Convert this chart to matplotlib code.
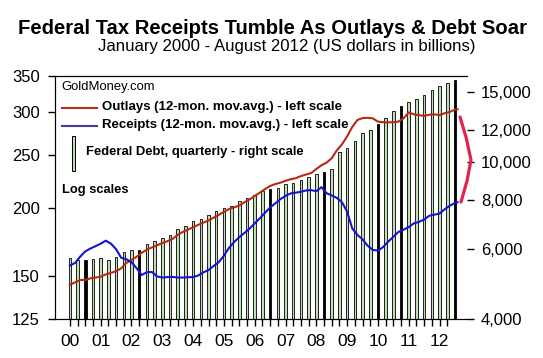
import numpy as np
import matplotlib
matplotlib.use('Agg')
import matplotlib.pyplot as plt
from matplotlib.lines import Line2D

# monthly index: 0 = Jan 2000, 151 = Aug 2012 (values read every 2 months)
line_months = list(range(0, 151, 2)) + [151]

outlays = [144.5, 146, 147.5, 147.5, 148.5, 149, 149.5, 151, 152, 153,
           155, 158.5, 160.5, 162.7, 165.5, 167.8, 169.3, 170.8, 172.5, 173.8,
           175.5, 178.5, 180.8, 182.6, 184.4, 186.3, 188, 189.8, 192, 194.3,
           196.8, 199.2, 200.6, 202.2, 205, 207.4, 210.5, 213.5, 216.7, 219.6,
           221.4, 222.7, 224.5, 226, 227, 229, 230.6, 232, 236, 239.8,
           242.5, 247, 255.5, 262, 271, 282, 290.5, 292.8, 293.2, 292.5,
           288.5, 287.8, 287.5, 287.8, 288.5, 292.5, 300, 297.5, 296.5, 295.5,
           297, 297.5, 296.5, 299, 300.5, 303.5, 304]

receipts = [156.8, 158.5, 162.8, 166.5, 168.5, 170.2, 172, 174.2, 172, 168,
            162, 161, 159, 155, 150.6, 152.5, 152.5, 149.7, 149, 149.3,
            149.4, 149, 149, 149.2, 149.3, 150.3, 152.3, 153.8, 156.5, 159,
            163.5, 169, 173.2, 176.8, 180, 183.3, 187.5, 191.5, 196, 200.5,
            204, 207.7, 210.6, 212.8, 213.5, 214.3, 215.5, 215.8, 214.8, 218.5,
            213, 211, 208.8, 205, 197, 183.5, 178.5, 175.2, 170.5, 167.5,
            167, 169.5, 173.5, 177, 180.8, 182.5, 184.5, 187.5, 188.6, 190.5,
            193.6, 194.5, 195.4, 199, 202, 204.4, 205]

# quarterly federal debt, Q1 2000 .. Q3 2012
debt_months = list(range(0, 151, 3))
debt = [5705, 5630, 5630, 5660, 5705, 5630, 5740, 5895, 5975, 5975,
        6185, 6300, 6400, 6510, 6770, 6880, 7080, 7150, 7320, 7510,
        7630, 7740, 7940, 8080, 8220, 8420, 8540, 8590, 8760, 8820,
        9000, 9130, 9310, 9400, 9600, 10600, 10850, 11300, 11800, 12050,
        12430, 12930, 13430, 13860, 14170, 14380, 14740, 15200, 15530, 15800,
        16100]
dark_bars = [2, 9, 26, 33, 40, 43, 50]

year_labels = ['00', '01', '02', '03', '04', '05', '06', '07', '08', '09', '10', '11', '12']
left_ticks = [125, 150, 200, 250, 300, 350]
right_ticks = [4000, 6000, 8000, 10000, 12000, 15000]
right_labels = ['4,000', '6,000', '8,000', '10,000', '12,000', '15,000']

plt.rcParams['font.family'] = ['Liberation Sans', 'DejaVu Sans']

W, H = 543, 358
fig = plt.figure(figsize=(W / 100, H / 100), dpi=100)

def fx(px):
    return px / W

def fy(py):
    return 1 - py / H

ax = fig.add_axes([fx(55), fy(319), fx(467) - fx(55), fy(76) - fy(319)])
ax2 = ax.twinx()
ax.set_zorder(ax2.get_zorder() + 1)
ax.patch.set_visible(False)

# debt bars (right scale)
colors = ['black' if i in dark_bars else '#bde0b0' for i in range(len(debt))]
ax2.bar(debt_months, debt, width=1.0, color=colors, edgecolor='black', linewidth=0.6)
ax2.set_yscale('log')
ax2.set_ylim(4000, 16470)
ax2.set_yticks(right_ticks)
ax2.set_yticklabels(right_labels)
ax2.yaxis.set_minor_locator(matplotlib.ticker.NullLocator())

# lines (left scale)
ax.plot(line_months, outlays, color='#b52a12', lw=1.5)
ax.plot(line_months, receipts, color='#1414d2', lw=1.5)
ax.set_yscale('log')
ax.set_ylim(125, 350)
ax.set_yticks(left_ticks)
ax.set_yticklabels([str(t) for t in left_ticks])
ax.yaxis.set_minor_locator(matplotlib.ticker.NullLocator())

ax.set_xlim(-5.8, 154.7)
qticks = list(range(0, 150, 3))
ax.set_xticks(qticks)
ax.set_xticklabels([year_labels[m // 12] if m % 12 == 0 else '' for m in qticks])

for a in (ax, ax2):
    a.spines['right'].set_visible(False)
    a.tick_params(axis='both', direction='out', length=5, width=1, labelsize=12)
ax.tick_params(axis='x', labelsize=12.5, pad=6)
ax.tick_params(axis='y', pad=6)
ax2.tick_params(axis='y', pad=5)

# titles
fig.text(fx(272), fy(28), 'Federal Tax Receipts Tumble As Outlays & Debt Soar',
         ha='center', va='center', fontsize=14.6, fontweight='bold')
fig.text(fx(287), fy(46), 'January 2000 - August 2012 (US dollars in billions)',
         ha='center', va='center', fontsize=12.1)

# legend box contents
fig.text(fx(61), fy(87), 'GoldMoney.com', ha='left', va='center', fontsize=9.4)
fig.add_artist(Line2D([fx(62), fx(97)], [fy(108), fy(108)], color='#b03020', lw=1.5))
fig.text(fx(102), fy(107), 'Outlays (12-mon. mov.avg.) - left scale',
         ha='left', va='center', fontsize=9.5, fontweight='bold')
fig.add_artist(Line2D([fx(62), fx(97)], [fy(126), fy(126)], color='#404098', lw=1.5))
fig.text(fx(102), fy(125), 'Receipts (12-mon. mov.avg.) - left scale',
         ha='left', va='center', fontsize=9.5, fontweight='bold')
fig.add_artist(plt.Rectangle((fx(72), fy(171)), fx(2.5), fy(136) - fy(171),
                             facecolor='#bde0b0', edgecolor='black', lw=0.7))
fig.text(fx(86), fy(152), 'Federal Debt, quarterly - right scale',
         ha='left', va='center', fontsize=9.4, fontweight='bold')
fig.text(fx(62), fy(190), 'Log scales', ha='left', va='center', fontsize=9.3, fontweight='bold')

# red bracket on the right
fig.add_artist(Line2D([fx(460), fx(466), fx(471), fx(467), fx(461)],
                      [fy(117), fy(137), fy(160), fy(181), fy(202)],
                      color='#e0234f', lw=2.3, solid_capstyle='round'))

fig.savefig('out.png', dpi=100)
